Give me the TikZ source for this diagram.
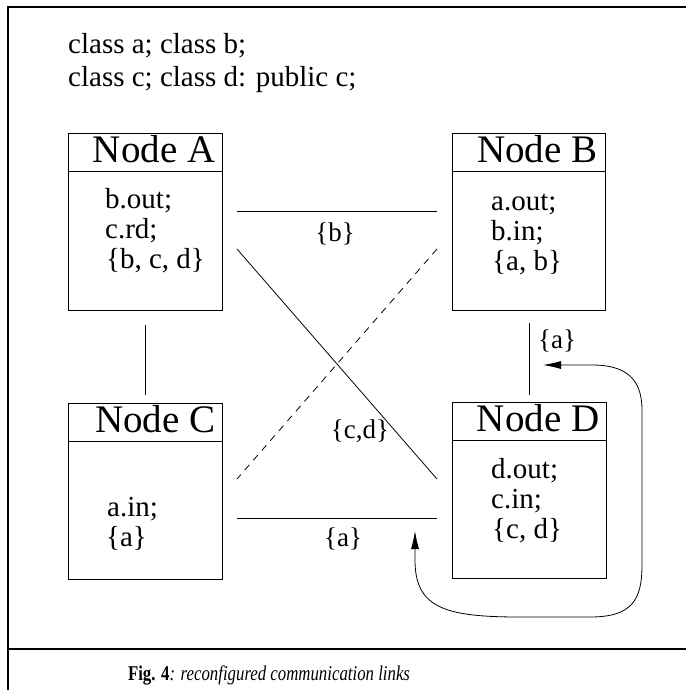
\documentclass[tikz,border=0pt]{standalone}
\usepackage{fontspec}
\setmainfont{Liberation Serif}
\usetikzlibrary{arrows.meta}

\tikzset{
  frameline/.style={line width=1.3pt},
  nodebox/.style={draw, line width=0.9pt, rectangle, inner sep=0pt},
  headline/.style={line width=0.9pt},
  titletext/.style={inner sep=0pt, anchor=base east, font=\fontsize{39}{39}\selectfont},
  bodytext/.style={inner sep=0pt, anchor=base west, font=\fontsize{29}{29}\selectfont},
  linktext/.style={inner sep=0pt, anchor=base, font=\fontsize{27}{27}\selectfont},
  link/.style={line width=0.8pt},
  dashlink/.style={line width=0.8pt, dash pattern=on 7pt off 6pt},
  loop/.style={line width=0.8pt, {Latex[length=18pt,width=8pt]}-{Latex[length=18pt,width=8pt]}}
}

\begin{document}
\begin{tikzpicture}[x=1pt, y=-1pt]
\useasboundingbox (0,0) rectangle (686,690);

% outer frame and caption separator
\draw[frameline] (8,690) -- (8,7) -- (686,7);
\draw[frameline] (8,649) -- (686,649);

% declarations
\node[bodytext] (decl1) at (68,54) {class a; class b;};
\node[bodytext] (decl2) at (68,87) {class c; class d: public c;};

% the four node boxes
\node[nodebox, minimum width=154pt, minimum height=177pt] (A) at (145,221.5) {};
\node[nodebox, minimum width=153pt, minimum height=177pt] (B) at (528.5,221.5) {};
\node[nodebox, minimum width=154pt, minimum height=176pt] (C) at (145,491) {};
\node[nodebox, minimum width=154pt, minimum height=176pt] (D) at (529,490) {};

% header separators
\foreach \n in {A,B,C,D}
  \draw[headline] ([yshift=-39pt]\n.north west) -- ([yshift=-39pt]\n.north east);

% titles
\node[titletext] (tA) at ([xshift=-7pt,yshift=-30pt]A.north east) {Node A};
\node[titletext] (tB) at ([xshift=-8pt,yshift=-30pt]B.north east) {Node B};
\node[titletext] (tC) at ([xshift=-7pt,yshift=-30pt]C.north east) {Node C};
\node[titletext] (tD) at ([xshift=-7pt,yshift=-30pt]D.north east) {Node D};

% contents
\node[bodytext] (a1) at (105,208) {b.out;};
\node[bodytext] (a2) at (105,238) {c.rd;};
\node[bodytext] (a3) at (106,268) {\{b, c, d\}};

\node[bodytext] (b1) at (491,210) {a.out;};
\node[bodytext] (b2) at (491,240) {b.in;};
\node[bodytext] (b3) at (492,270) {\{a, b\}};

\node[bodytext] (c1) at (107,516) {a.in;};
\node[bodytext] (c2) at (106,546) {\{a\}};

\node[bodytext] (d1) at (491,478) {d.out;};
\node[bodytext] (d2) at (491,508) {c.in;};
\node[bodytext] (d3) at (492,538) {\{c, d\}};

% link end points
\coordinate (ab1) at (237,211);
\coordinate (ab2) at (437,211);
\coordinate (ad1) at (237,249);
\coordinate (ad2) at (437,479);
\coordinate (bc1) at (437,249);
\coordinate (bc2) at (237,479);
\coordinate (cd1) at (237,518);
\coordinate (cd2) at (437,518);
\coordinate (ac1) at (145,325);
\coordinate (ac2) at (145,395);
\coordinate (bd1) at (529,323);
\coordinate (bd2) at (529,395);

\draw[link] (ab1) -- (ab2);
\draw[link] (ad1) -- (ad2);
\draw[dashlink] (bc1) -- (bc2);
\draw[link] (cd1) -- (cd2);
\draw[link] (ac1) -- (ac2);
\draw[link] (bd1) -- (bd2);

% link labels
\node[linktext] (lb) at (335,241) {\{b\}};
\node[linktext] (lcd) at (360,438) {\{c,d\}};
\node[linktext] (la) at (343,546) {\{a\}};
\node[linktext, anchor=base west] (la2) at (538,348) {\{a\}};

% reconfiguration loop
\coordinate (lp1) at (415,531);
\coordinate (lp2) at (543,365);
\draw[loop] (lp1) -- (415,560)
  .. controls (415,608) and (445,617) .. (520,617)
  -- (590,617)
  .. controls (632,617) and (642,600) .. (642,565)
  -- (642,410)
  .. controls (642,378) and (625,365) .. (592,365)
  -- (lp2);

% caption
\node[inner sep=0pt, anchor=base, font=\fontsize{21}{21}\selectfont] (cap) at (269,680)
  {\scalebox{0.8}[1]{\textbf{Fig. 4}\textit{: reconfigured communication links}}};
\end{tikzpicture}
\end{document}
